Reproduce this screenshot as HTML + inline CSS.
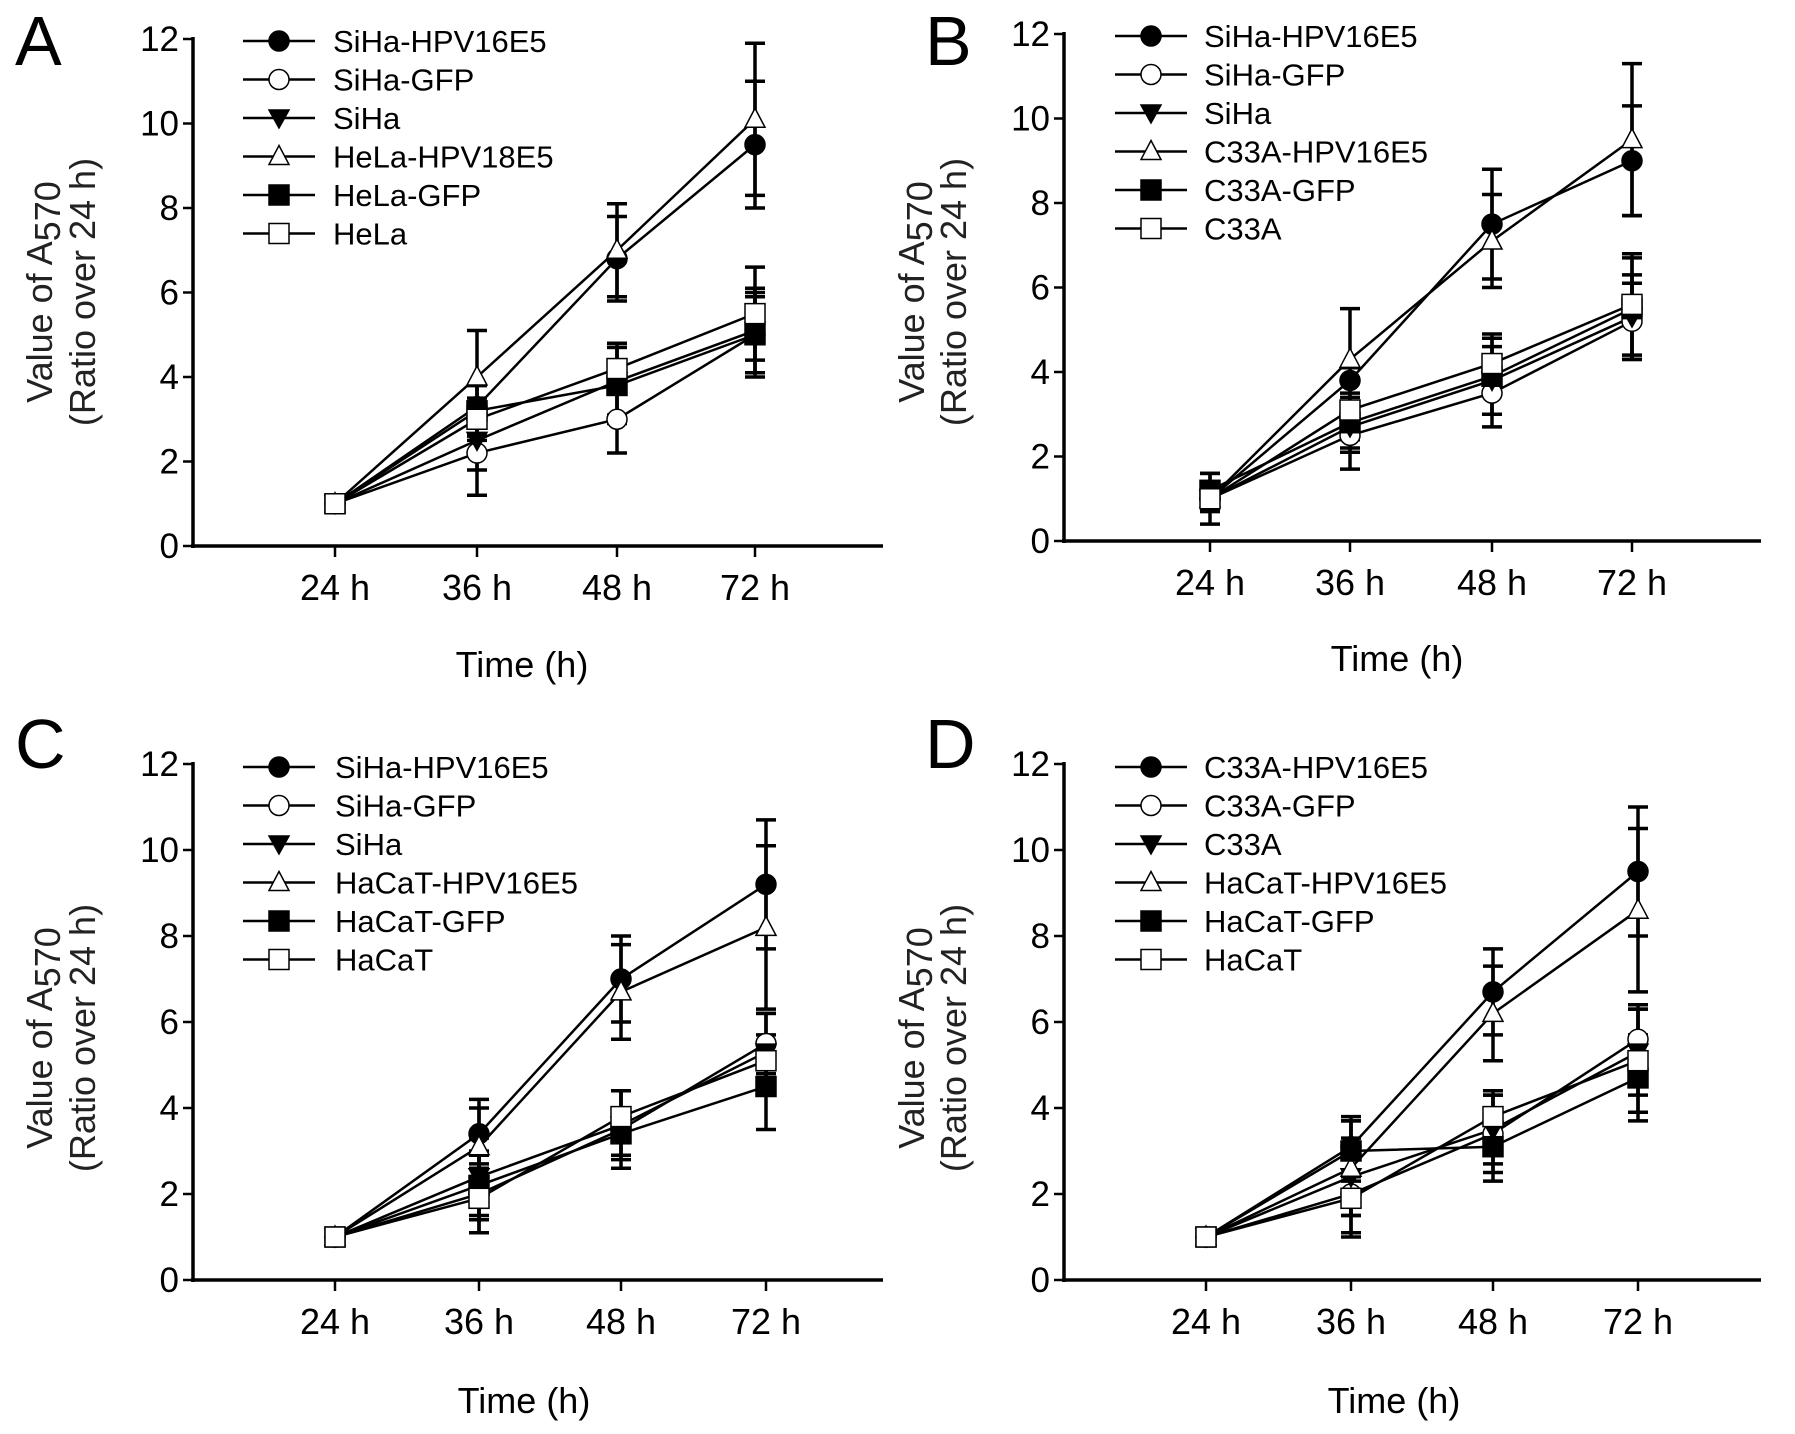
<!DOCTYPE html>
<html><head><meta charset="utf-8"><style>
html,body{margin:0;padding:0;background:#fff;overflow:hidden;}
svg{display:block;font-family:"Liberation Sans",Arial,sans-serif;}
</style></head><body>
<svg id="chart" width="1795" height="1434" viewBox="0 0 1795 1434" xmlns="http://www.w3.org/2000/svg"></svg>
<script>
const categories = ["24 h","36 h","48 h","72 h"];
const yTicks = [0,2,4,6,8,10,12];
const markerTypes = ["circleFilled","circleOpen","triDown","triUp","squareFilled","squareOpen"];

const namesA = ["SiHa-HPV16E5","SiHa-GFP","SiHa","HeLa-HPV18E5","HeLa-GFP","HeLa"];
const meansA = [[1,3.3,6.8,9.5],[1,2.2,3.0,5.0],[1,2.5,3.9,5.1],[1,4.0,7.0,10.1],[1,3.2,3.8,5.0],[1,3.0,4.2,5.5]];
const errsA  = [[0,0.5,1.0,1.5],[0,1.0,0.8,0.9],[0,0.7,0.8,1.0],[0,1.1,1.1,1.8],[0,0.6,0.9,1.0],[0,0.5,0.6,1.1]];

const namesB = ["SiHa-HPV16E5","SiHa-GFP","SiHa","C33A-HPV16E5","C33A-GFP","C33A"];
const meansB = [[1,3.8,7.5,9.0],[1,2.5,3.5,5.2],[1,2.7,3.8,5.3],[1,4.3,7.1,9.5],[1.2,2.8,3.9,5.5],[1,3.1,4.2,5.6]];
const errsB  = [[0.3,0.3,1.3,1.3],[0.3,0.8,0.8,0.9],[0.3,0.6,0.8,1.0],[0.3,1.2,1.1,1.8],[0.4,0.6,0.9,1.2],[0.6,0.7,0.7,1.2]];

const namesC = ["SiHa-HPV16E5","SiHa-GFP","SiHa","HaCaT-HPV16E5","HaCaT-GFP","HaCaT"];
const meansC = [[1,3.4,7.0,9.2],[1,2.0,3.5,5.5],[1,2.4,3.6,5.3],[1,3.1,6.7,8.2],[1,2.2,3.4,4.5],[1,1.9,3.8,5.1]];
const errsC  = [[0,0.8,1.0,1.5],[0,0.9,0.9,0.7],[0,0.9,0.8,0.9],[0,0.9,1.1,1.9],[0,0.8,0.5,1.0],[0,0.8,0.6,0.6]];

const namesD = ["C33A-HPV16E5","C33A-GFP","C33A","HaCaT-HPV16E5","HaCaT-GFP","HaCaT"];
const meansD = [[1,3.1,6.7,9.5],[1,2.0,3.4,5.6],[1,2.4,3.5,5.3],[1,2.6,6.2,8.6],[1,3.0,3.1,4.7],[1,1.9,3.8,5.1]];
const errsD  = [[0,0.7,1.0,1.5],[0,0.9,0.9,0.8],[0,0.9,0.8,1.0],[0,1.1,1.1,1.9],[0,0.7,0.8,1.0],[0,0.9,0.6,1.2]];

const panels = [
 {id:"a",letter:"A",names:namesA,means:meansA,errs:errsA,ax:193,y0:546,y12:39,xs:[335,477,617,755],xend:883,lx:15,ly:65,legLine:243,legText:333,legY:41,tx:522,ty:677,yt1:40,yt2:83,ytc:292},
 {id:"b",letter:"B",names:namesB,means:meansB,errs:errsB,ax:1064,y0:541,y12:34,xs:[1210,1350,1492,1632],xend:1761,lx:925,ly:65,legLine:1115,legText:1204,legY:36,tx:1397,ty:671,yt1:912,yt2:954,ytc:292},
 {id:"c",letter:"C",names:namesC,means:meansC,errs:errsC,ax:193,y0:1280,y12:764,xs:[335,479,621,766],xend:883,lx:15,ly:768,legLine:243,legText:335,legY:767,tx:524,ty:1413,yt1:40,yt2:83,ytc:1038},
 {id:"d",letter:"D",names:namesD,means:meansD,errs:errsD,ax:1064,y0:1280,y12:764,xs:[1206,1351,1493,1638],xend:1761,lx:925,ly:768,legLine:1115,legText:1204,legY:767,tx:1394,ty:1413,yt1:912,yt2:954,ytc:1038}
];

const NS="http://www.w3.org/2000/svg";
const svg=document.getElementById("chart");
function mk(tag,attrs,parent){const e=document.createElementNS(NS,tag);for(const k in attrs)e.setAttribute(k,attrs[k]);(parent||svg).appendChild(e);return e;}

function marker(type,cx,cy,g){
  const r=10;let e;
  if(type.startsWith("circle")){
    e=mk("circle",{cx:cx,cy:cy,r:r,fill:type==="circleFilled"?"#000":"#fff",stroke:"#000","stroke-width":1.5},g);
  }else if(type.startsWith("square")){
    e=mk("rect",{x:cx-r,y:cy-r,width:2*r,height:2*r,fill:type==="squareFilled"?"#000":"#fff",stroke:"#000","stroke-width":1.5},g);
  }else if(type==="triDown"){
    e=mk("polygon",{points:`${cx-r},${cy-r*0.8} ${cx+r},${cy-r*0.8} ${cx},${cy+r}`,fill:"#000",stroke:"#000","stroke-width":1.5},g);
  }else{
    e=mk("polygon",{points:`${cx},${cy-r*1.1} ${cx+r},${cy+r*0.8} ${cx-r},${cy+r*0.8}`,fill:"#fff",stroke:"#000","stroke-width":1.5},g);
  }
  return e;
}

panels.forEach(p=>{
  const g=mk("g",{});
  
  
  const yS=v=>p.y0+(p.y12-p.y0)*v/12;
  const xS=i=>p.xs[i];
  const L=mk("text",{x:p.lx,y:p.ly,"font-size":70},g);L.textContent=p.letter;
  
  
  const ya=mk("line",{x1:p.ax,y1:p.y12-2,x2:p.ax,y2:p.y0+2,stroke:"#000","stroke-width":3.5},g);
  
  
  const xa=mk("line",{x1:p.ax-2,y1:p.y0,x2:p.xend,y2:p.y0,stroke:"#000","stroke-width":3.5},g);
  
  
  yTicks.forEach(t=>{
    const y=yS(t);
    mk("line",{x1:p.ax-10,y1:y,x2:p.ax,y2:y,stroke:"#000","stroke-width":2.5},g);
    const tl=mk("text",{x:p.ax-14,y:y+12,"font-size":35,"text-anchor":"end"},g);tl.textContent=t;
    
    
  });
  categories.forEach((c,i)=>{
    const x=xS(i);
    mk("line",{x1:x,y1:p.y0,x2:x,y2:p.y0+11,stroke:"#000","stroke-width":2.5},g);
    const tl=mk("text",{x:x,y:p.y0+54,"font-size":36,"text-anchor":"middle"},g);tl.textContent=c;
    
    
  });
  const xt=mk("text",{x:p.tx,y:p.ty,"font-size":36,"text-anchor":"middle"},g);xt.textContent="Time (h)";
  
  
  const yt=mk("text",{transform:`translate(${p.yt1+12},${p.ytc}) rotate(-90)`,"font-size":36,"text-anchor":"middle",fill:"#222"},g);
  
  
  yt.appendChild(document.createTextNode("Value of A"));
  const sub=mk("tspan",{dy:8},yt);sub.textContent="570";
  const yt2=mk("text",{transform:`translate(${p.yt2+12},${p.ytc}) rotate(-90)`,"font-size":36,"text-anchor":"middle",fill:"#222"},g);
  yt2.textContent="(Ratio over 24 h)";
  
  
  p.means.forEach((m,s)=>{
    const pts=m.map((v,i)=>xS(i)+","+yS(v)).join(" ");
    const pl=mk("polyline",{points:pts,fill:"none",stroke:"#000","stroke-width":2.5},g);
    
    
  });
  p.means.forEach((m,s)=>{
    m.forEach((v,i)=>{
      const e=p.errs[s][i];if(!e)return;
      const x=xS(i);
      const eb=mk("path",{d:`M${x},${yS(v+e)}V${yS(v-e)}M${x-10},${yS(v+e)}H${x+10}M${x-10},${yS(v-e)}H${x+10}`,stroke:"#000","stroke-width":3.5,fill:"none"},g);
      
      
    });
  });
  p.means.forEach((m,s)=>{
    m.forEach((v,i)=>{
      const mm=marker(markerTypes[s],xS(i),yS(v),g);
      
      
    });
  });
  p.names.forEach((n,s)=>{
    const y=p.legY+s*38.5;
    const lg=mk("g",{},g);
    
    
    mk("line",{x1:p.legLine,y1:y,x2:p.legLine+72,y2:y,stroke:"#000","stroke-width":2.5},lg);
    marker(markerTypes[s],p.legLine+36,y,lg);
    const t=mk("text",{x:p.legText,y:y+11,"font-size":31},lg);t.textContent=n;
  });
});
</script>
</body></html>
